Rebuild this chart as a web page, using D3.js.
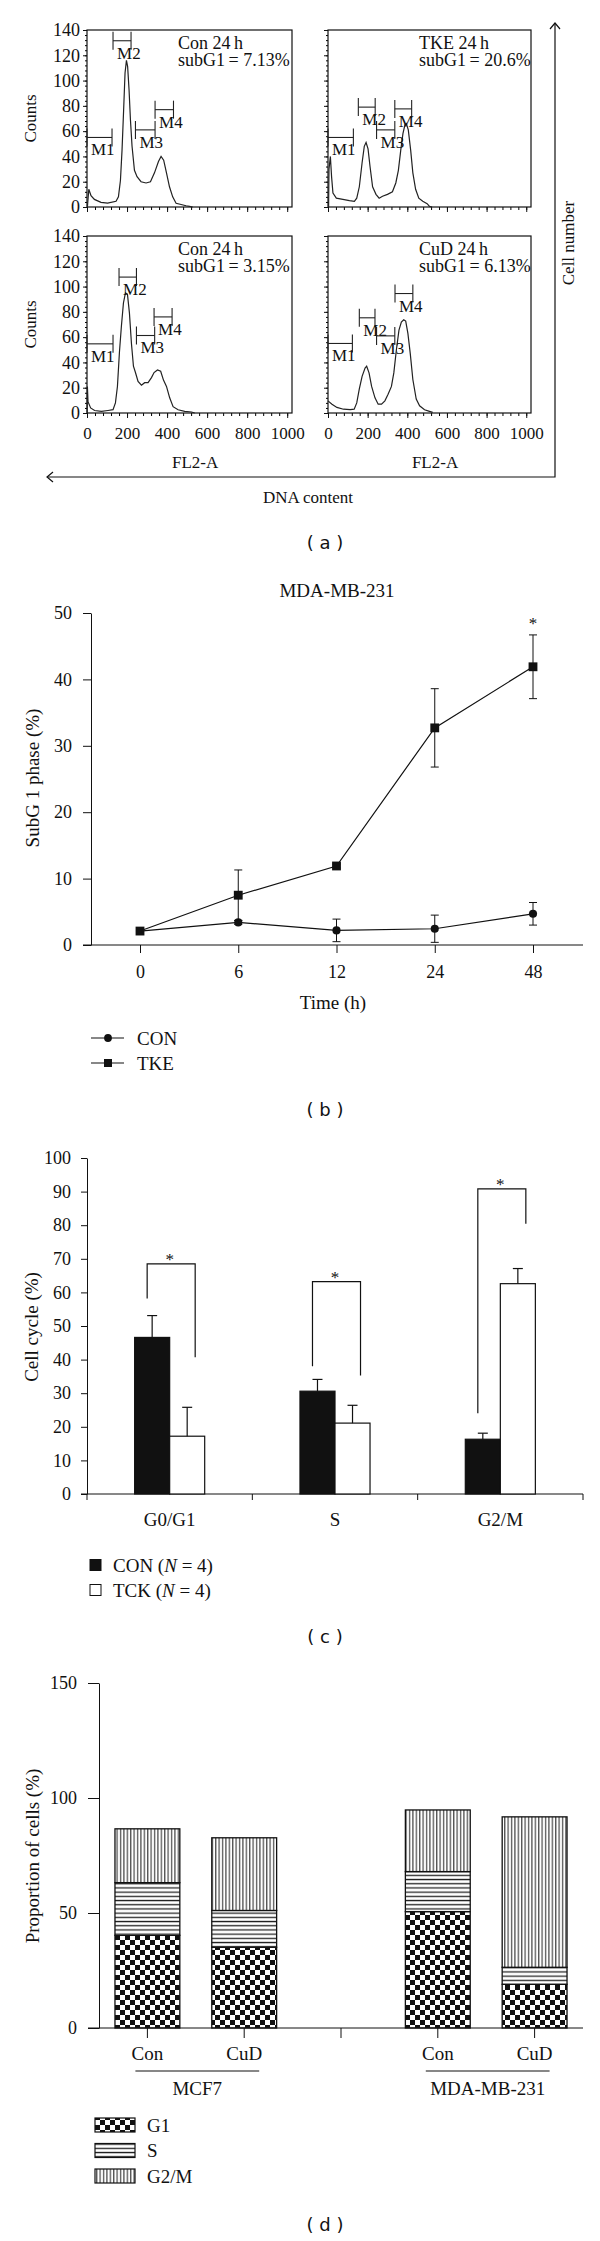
<!DOCTYPE html>
<html>
<head>
<meta charset="utf-8">
<script src="https://cdn.jsdelivr.net/npm/d3@7"></script>
<style>
body { margin: 0; background: #fff; }
text { font-family: "Liberation Serif", "Times New Roman", serif; fill: #111; }
.tag { font-family: "DejaVu Sans", sans-serif; }
</style>
</head>
<body>
<svg id="fig" width="600" height="2241"></svg>
<script>
// ---------- data: panel (a) flow cytometry histograms, [channel, counts]
var histConA = [[2,0],[9,14],[20,9],[37,6],[70,3.7],[103,3],[145,4.5],[157,8],[167,21],[175,45],[183,77],[190,106],[197,116],[203,111],[210,93],[217,69],[225,48],[237,29],[250,24],[270,20],[295,19],[317,20],[337,27],[357,36],[370,40],[383,37],[397,27],[412,16],[428,8],[445,3],[470,2],[495,1],[512,0.5],[528,0]]
var histTke = [[3,0],[5,30],[12,40],[18,24],[25,11],[42,7],[75,6],[108,5],[133,4.5],[145,7],[158,16],[172,35],[183,48],[192,51],[202,46],[212,32],[225,16],[242,10],[258,7],[275,8.5],[300,10],[325,12],[342,19],[355,29],[367,45],[378,58],[388,65],[395,66],[405,61],[417,45],[428,27],[442,14],[458,7],[478,4.5],[500,2.6],[512,0.5],[525,0]]
var histConB = [[1,0],[2,21],[5,9],[18,4],[38,2],[72,1.3],[105,2],[130,2.6],[142,8],[152,21],[162,48],[172,69],[182,87],[192,95],[202,94],[212,79],[222,55],[232,37],[242,32],[255,25],[272,22],[288,24],[305,24],[322,28],[335,32],[352,34],[368,33],[382,26],[397,21],[413,12],[430,5],[455,2.6],[488,1.3],[522,0.8],[538,0]]
var histCud = [[0,9.6],[20,7],[45,4.4],[78,3],[112,2.6],[132,3],[145,8],[158,19],[172,29],[187,35.6],[195,37],[207,31.7],[220,21],[237,12],[253,7],[270,7],[287,9.6],[303,14.8],[320,21],[332,31.7],[345,50],[358,65.5],[370,72],[382,73.8],[392,72.7],[403,63],[415,47],[428,26.5],[445,11],[462,5.7],[487,2.6],[512,1.3],[528,0.5]]

// gates: [name, start channel, end channel, level]
var gatesConA = [["M1",0,125,55],["M2",130,220,131.5],["M3",242,340,61],["M4",340,432,77]]
var gatesTke = [["M1",0,128,55],["M2",153,238,79],["M3",245,337,61],["M4",337,422,77.6]]
var gatesConB = [["M1",0,130,54.7],["M2",160,247,107.5],["M3",247,338,61.3],["M4",335,425,76]]
var gatesCud = [["M1",0,123,55],["M2",158,237,75.3],["M3",245,337,61],["M4",338,428,94.5]]

var histNotes = [["Con 24\u2009h","subG1\u2009= 7.13%"],["TKE 24\u2009h","subG1\u2009= 20.6%"],["Con 24\u2009h","subG1\u2009= 3.15%"],["CuD 24\u2009h","subG1\u2009= 6.13%"]]
var countTicks = [0,20,40,60,80,100,120,140]
var channelTicks = [0,200,400,600,800,1000]

// ---------- data: panel (b) subG1 time course
var timeLabels = ["0","6","12","24","48"]
var conSub = [2.1,3.4,2.2,2.45,4.7]
var conSubErr = [0,0.3,1.7,2.05,1.7]
var tkeSub = [2.1,7.5,11.9,32.7,41.9]
var tkeSubErr = [0,3.8,0.3,5.9,4.8]
var subTicks = [0,10,20,30,40,50]

// ---------- data: panel (c) cell cycle
var phaseLabels = ["G0/G1","S","G2/M"]
var conPhase = [46.6,30.6,16.3]
var conPhaseErr = [6.5,3.5,1.8]
var tckPhase = [17.2,21.1,62.6]
var tckPhaseErr = [8.6,5.3,4.5]
var sigTop = [68.5,63.2,90.8]
var sigLeftFoot = [58.2,38,24]
var sigRightFoot = [40.7,35.3,80.4]
var cycleTicks = [0,10,20,30,40,50,60,70,80,90,100]

// ---------- data: panel (d) stacked proportions
var slotIds = ["mcf7-con","mcf7-cud","gap","mda-con","mda-cud"]
var treatLabels = ["Con","CuD","","Con","CuD"]
var g1Vals = [40.3,35.1,0,50.6,19.0]
var sVals = [22.9,16.0,0,17.4,7.4]
var g2mVals = [23.4,31.6,0,26.8,65.4]
var cellLines = ["MCF7","MDA-MB-231"]
var phaseKeys = ["G1","S","G2/M"]
var propTicks = [0,50,100,150]

var svg = d3.select("#fig")
svg.append("rect").attr("width",600).attr("height",2241).attr("fill","#fff")

var defs = svg.append("defs")
var checker = defs.append("pattern").attr("id","pG1").attr("patternUnits","userSpaceOnUse").attr("width",10).attr("height",10)
checker.append("rect").attr("width",10).attr("height",10).attr("fill","#fff")
checker.append("rect").attr("width",5).attr("height",5).attr("fill","#111")
checker.append("rect").attr("x",5).attr("y",5).attr("width",5).attr("height",5).attr("fill","#111")
var hl = defs.append("pattern").attr("id","pS").attr("patternUnits","userSpaceOnUse").attr("width",6).attr("height",4.2)
hl.append("rect").attr("width",6).attr("height",4.2).attr("fill","#fff")
hl.append("rect").attr("y",1.5).attr("width",6).attr("height",1.3).attr("fill","#222")
var vl = defs.append("pattern").attr("id","pG2M").attr("patternUnits","userSpaceOnUse").attr("width",3.4).attr("height",6)
vl.append("rect").attr("width",3.4).attr("height",6).attr("fill","#fff")
vl.append("rect").attr("x",1).attr("width",1.1).attr("height",6).attr("fill","#333")
var patternOf = {"G1":"url(#pG1)","S":"url(#pS)","G2/M":"url(#pG2M)"}

function styleAxis(g, size) {
	g.attr("font-family","Liberation Serif").attr("font-size",size).attr("color","#111")
	g.selectAll("text").style("fill","#111")
}

function rotLabel(txt, cx, cy, size) {
	svg.append("text")
		.attr("transform","translate(" + cx + "," + cy + ") rotate(-90)")
		.attr("text-anchor","middle")
		.attr("dy","0.35em")
		.attr("font-size",size)
		.text(txt)
}

function tag(txt, cy) {
	svg.append("text").attr("class","tag")
		.attr("x",325).attr("y",cy).attr("dy","0.35em")
		.attr("text-anchor","middle").attr("font-size",18)
		.text(txt)
}

// ================= panel (a)
var colX = [[87,292],[328,531]]
var rowY = [[30,207],[236,413]]
var hists = [histConA, histTke, histConB, histCud]
var gates = [gatesConA, gatesTke, gatesConB, gatesCud]

hists.forEach(function(data, i) {
	var c = i % 2, r = Math.floor(i / 2)
	var x = d3.scaleLinear().domain([0,1024]).range(colX[c])
	var y = d3.scaleLinear().domain([0,140]).range([rowY[r][1], rowY[r][0]])
	var g = svg.append("g")

	// minor ticks
	g.append("g").attr("transform","translate(" + colX[c][0] + ",0)")
		.call(d3.axisLeft(y).tickValues(d3.range(0,141,4)).tickSize(2).tickFormat(""))
		.call(function(a){ a.select(".domain").remove() })
	g.append("g").attr("transform","translate(0," + rowY[r][1] + ")")
		.call(d3.axisBottom(x).tickValues(d3.range(0,1001,40)).tickSize(3).tickFormat(""))
		.call(function(a){ a.select(".domain").remove() })

	var ya = g.append("g").attr("transform","translate(" + colX[c][0] + ",0)")
		.call(d3.axisLeft(y).tickValues(countTicks).tickSize(4).tickPadding(3)
			.tickFormat(c == 0 ? function(d){ return d } : ""))
	ya.select(".domain").remove()
	styleAxis(ya, 18)

	var xa = g.append("g").attr("transform","translate(0," + rowY[r][1] + ")")
		.call(d3.axisBottom(x).tickValues(channelTicks).tickSize(5).tickPadding(9)
			.tickFormat(r == 1 ? function(d){ return d } : ""))
	xa.select(".domain").remove()
	styleAxis(xa, 17)

	g.append("rect")
		.attr("x",colX[c][0]).attr("y",rowY[r][0])
		.attr("width",colX[c][1]-colX[c][0]).attr("height",rowY[r][1]-rowY[r][0])
		.attr("fill","none").attr("stroke","#111").attr("stroke-width",1.2)

	g.append("path").datum(data)
		.attr("fill","none").attr("stroke","#222").attr("stroke-width",1.2)
		.attr("d", d3.line().x(function(d){ return x(d[0]) }).y(function(d){ return y(d[1]) }))

	gates[i].forEach(function(m) {
		var yy = y(m[3])
		g.append("line").attr("x1",x(m[1])).attr("x2",x(m[2])).attr("y1",yy).attr("y2",yy)
			.attr("stroke","#222").attr("stroke-width",1.1)
		;[m[1], m[2]].forEach(function(v) {
			g.append("line").attr("x1",x(v)).attr("x2",x(v)).attr("y1",yy-9).attr("y2",yy+9)
				.attr("stroke","#222").attr("stroke-width",1.1)
		})
		g.append("text").attr("x",x(m[1])+4).attr("y",yy+18).attr("font-size",17).text(m[0])
	})

	g.append("text").attr("x",colX[c][0]+91).attr("y",rowY[r][0]+19).attr("font-size",18).text(histNotes[i][0])
	g.append("text").attr("x",colX[c][0]+91).attr("y",rowY[r][0]+36).attr("font-size",18).text(histNotes[i][1])

	if (c == 0) rotLabel("Counts", 30, (rowY[r][0]+rowY[r][1])/2, 17)
	if (r == 1) {
		svg.append("text").attr("x",x(540)).attr("y",468).attr("text-anchor","middle")
			.attr("font-size",17).text("FL2-A")
	}
})

// cell number / DNA content arrows
svg.append("path")
	.attr("d","M555,23 L555,477 L47,477")
	.attr("fill","none").attr("stroke","#111").attr("stroke-width",1.2)
svg.append("path").attr("d","M550,29 L555,23 L560,29").attr("fill","none").attr("stroke","#111").attr("stroke-width",1.2)
svg.append("path").attr("d","M53,472 L47,477 L53,482").attr("fill","none").attr("stroke","#111").attr("stroke-width",1.2)
rotLabel("Cell number", 568, 243, 17)
svg.append("text").attr("x",308).attr("y",503).attr("text-anchor","middle").attr("font-size",17).text("DNA content")
tag("( a )", 543)

// ================= panel (b)
var xB = d3.scalePoint().domain(timeLabels).range([140,533])
var yB = d3.scaleLinear().domain([0,50]).range([945,613])

svg.append("text").attr("x",337).attr("y",597).attr("text-anchor","middle").attr("font-size",19).text("MDA-MB-231")

var yaB = svg.append("g").attr("transform","translate(91,0)")
	.call(d3.axisLeft(yB).tickValues(subTicks).tickSize(8).tickPadding(11).tickSizeOuter(0))
styleAxis(yaB, 18)
var xaB = svg.append("g").attr("transform","translate(0,945)")
	.call(d3.axisBottom(xB).tickSize(8).tickPadding(12))
xaB.select(".domain").remove()
styleAxis(xaB, 18)
svg.append("line").attr("x1",83).attr("x2",583).attr("y1",945).attr("y2",945).attr("stroke","#111")

rotLabel("SubG 1 phase (%)", 32, 778, 19)
svg.append("text").attr("x",333).attr("y",1009).attr("text-anchor","middle").attr("font-size",19).text("Time (h)")

function seriesB(vals, errs, shape) {
	var pts = timeLabels.map(function(t, i){ return [xB(t), vals[i], errs[i]] })
	var g = svg.append("g")
	pts.forEach(function(p) {
		if (p[2] <= 0) return
		var y1 = yB(p[1]+p[2]), y0 = yB(p[1]-p[2])
		g.append("line").attr("x1",p[0]).attr("x2",p[0]).attr("y1",y1).attr("y2",y0).attr("stroke","#111")
		g.append("line").attr("x1",p[0]-4).attr("x2",p[0]+4).attr("y1",y1).attr("y2",y1).attr("stroke","#111")
		g.append("line").attr("x1",p[0]-4).attr("x2",p[0]+4).attr("y1",y0).attr("y2",y0).attr("stroke","#111")
	})
	g.append("path").datum(pts).attr("fill","none").attr("stroke","#111").attr("stroke-width",1.2)
		.attr("d", d3.line().x(function(d){ return d[0] }).y(function(d){ return yB(d[1]) }))
	g.selectAll(".m").data(pts).enter().append("path")
		.attr("transform", function(d){ return "translate(" + d[0] + "," + yB(d[1]) + ")" })
		.attr("d", d3.symbol().type(shape).size(shape == d3.symbolSquare ? 78 : 52))
		.attr("fill","#111")
}
seriesB(conSub, conSubErr, d3.symbolCircle)
seriesB(tkeSub, tkeSubErr, d3.symbolSquare)
svg.append("text").attr("x",xB("48")).attr("y",629).attr("text-anchor","middle").attr("font-size",17).text("*")

var legB = [["CON", d3.symbolCircle, 1038],["TKE", d3.symbolSquare, 1063]]
legB.forEach(function(l) {
	svg.append("line").attr("x1",91).attr("x2",124).attr("y1",l[2]).attr("y2",l[2]).attr("stroke","#111").attr("stroke-width",1.2)
	svg.append("path").attr("transform","translate(108," + l[2] + ")")
		.attr("d", d3.symbol().type(l[1]).size(l[1] == d3.symbolSquare ? 64 : 48)).attr("fill","#111")
	svg.append("text").attr("x",137).attr("y",l[2]+6.5).attr("font-size",19).text(l[0])
})
tag("( b )", 1110)

// ================= panel (c)
var xC = d3.scaleBand().domain(phaseLabels).range([87,583])
var subC = d3.scaleBand().domain(["CON","TCK"]).range([0,xC.bandwidth()]).paddingOuter(1.36)
var yC = d3.scaleLinear().domain([0,100]).range([1494,1158])

var yaC = svg.append("g").attr("transform","translate(87,0)")
	.call(d3.axisLeft(yC).tickValues(cycleTicks).tickSize(6).tickPadding(10).tickSizeOuter(0))
styleAxis(yaC, 18)
svg.append("line").attr("x1",81).attr("x2",583).attr("y1",1494).attr("y2",1494).attr("stroke","#111")
phaseLabels.concat(["end"]).forEach(function(p) {
	var xx = p == "end" ? 583 : xC(p)
	svg.append("line").attr("x1",xx).attr("x2",xx).attr("y1",1494).attr("y2",1500).attr("stroke","#111")
})
phaseLabels.forEach(function(p) {
	svg.append("text").attr("x",xC(p)+xC.bandwidth()/2).attr("y",1526).attr("text-anchor","middle").attr("font-size",19).text(p)
})
rotLabel("Cell cycle (%)", 31, 1327, 19)

phaseLabels.forEach(function(p, i) {
	var bw = subC.bandwidth()
	var xb = xC(p) + subC("CON"), xw = xC(p) + subC("TCK")
	var bars = [[xb, conPhase[i], conPhaseErr[i], "#111"],[xw, tckPhase[i], tckPhaseErr[i], "#fff"]]
	bars.forEach(function(b) {
		svg.append("rect").attr("x",b[0]).attr("y",yC(b[1])).attr("width",bw).attr("height",1494-yC(b[1]))
			.attr("fill",b[3]).attr("stroke","#111").attr("stroke-width",1.2)
		var cx = b[0] + bw/2, yt = yC(b[1]+b[2])
		svg.append("line").attr("x1",cx).attr("x2",cx).attr("y1",yC(b[1])).attr("y2",yt).attr("stroke","#111").attr("stroke-width",1.2)
		svg.append("line").attr("x1",cx-5).attr("x2",cx+5).attr("y1",yt).attr("y2",yt).attr("stroke","#111").attr("stroke-width",1.2)
	})
	var lx = xb + bw/2 - 5, rx = xw + bw/2 + 8
	svg.append("path")
		.attr("d","M" + lx + "," + yC(sigLeftFoot[i]) + " L" + lx + "," + yC(sigTop[i]) +
			" L" + rx + "," + yC(sigTop[i]) + " L" + rx + "," + yC(sigRightFoot[i]))
		.attr("fill","none").attr("stroke","#111").attr("stroke-width",1.2)
	svg.append("text").attr("x",xC(p)+xC.bandwidth()/2).attr("y",yC(sigTop[i])+1).attr("text-anchor","middle").attr("font-size",17).text("*")
})

var legC = [["CON", "#111", 1565],["TCK", "#fff", 1590]]
legC.forEach(function(l) {
	svg.append("rect").attr("x",90).attr("y",l[2]-5.5).attr("width",11).attr("height",11)
		.attr("fill",l[1]).attr("stroke","#111").attr("stroke-width",1)
	var t = svg.append("text").attr("x",113).attr("y",l[2]+6.5).attr("font-size",19)
	t.append("tspan").text(l[0] + " (")
	t.append("tspan").attr("font-style","italic").text("N")
	t.append("tspan").text(" = 4)")
})
tag("( c )", 1637)

// ================= panel (d)
var xD = d3.scaleBand().domain(slotIds).range([99,583]).paddingInner(0.33).paddingOuter(0.165)
var yD = d3.scaleLinear().domain([0,150]).range([2028,1683])

var yaD = svg.append("g").attr("transform","translate(99,0)")
	.call(d3.axisLeft(yD).tickValues(propTicks).tickSize(11).tickPadding(11).tickSizeOuter(0))
styleAxis(yaD, 18)
rotLabel("Proportion of cells (%)", 32, 1856, 19)

var rowsD = slotIds.map(function(id, i){ return {id: id, "G1": g1Vals[i], "S": sVals[i], "G2/M": g2mVals[i]} })
var stackD = d3.stack().keys(phaseKeys)(rowsD)
svg.append("g").selectAll("g").data(stackD).enter().append("g")
	.attr("fill", function(d){ return patternOf[d.key] })
	.selectAll("rect").data(function(d){ return d.filter(function(v){ return v.data.id != "gap" }) })
	.enter().append("rect")
	.attr("x", function(d){ return xD(d.data.id) })
	.attr("y", function(d){ return yD(d[1]) })
	.attr("width", xD.bandwidth())
	.attr("height", function(d){ return yD(d[0]) - yD(d[1]) })
	.attr("stroke","#111").attr("stroke-width",1.3)

svg.append("line").attr("x1",88).attr("x2",583).attr("y1",2028).attr("y2",2028).attr("stroke","#111")
slotIds.forEach(function(id, i) {
	var cx = xD(id) + xD.bandwidth()/2
	svg.append("line").attr("x1",cx).attr("x2",cx).attr("y1",2028).attr("y2",2038).attr("stroke","#111")
	if (treatLabels[i]) svg.append("text").attr("x",cx).attr("y",2060).attr("text-anchor","middle").attr("font-size",19).text(treatLabels[i])
})
var lineGroups = [[slotIds[0], slotIds[1]],[slotIds[3], slotIds[4]]]
lineGroups.forEach(function(gp, i) {
	var a = xD(gp[0]) + xD.bandwidth()/2 - 12, b = xD(gp[1]) + xD.bandwidth()/2 + 15
	svg.append("line").attr("x1",a).attr("x2",b).attr("y1",2071).attr("y2",2071).attr("stroke","#111").attr("stroke-width",1.2)
	svg.append("text").attr("x",(a+b)/2).attr("y",2095).attr("text-anchor","middle").attr("font-size",19).text(cellLines[i])
})

phaseKeys.forEach(function(k, i) {
	var cy = 2125 + i*25.5
	svg.append("rect").attr("x",95).attr("y",cy-7).attr("width",40).attr("height",14)
		.attr("fill",patternOf[k]).attr("stroke","#111").attr("stroke-width",1.2)
	svg.append("text").attr("x",147).attr("y",cy+6.5).attr("font-size",19).text(k)
})
tag("( d )", 2225)
</script>
</body>
</html>
